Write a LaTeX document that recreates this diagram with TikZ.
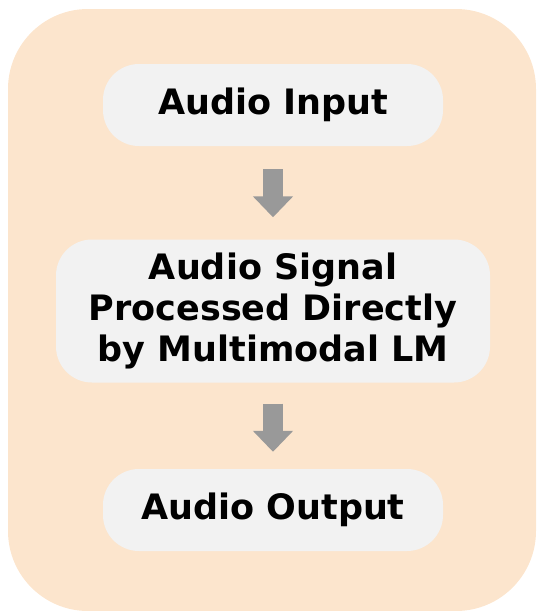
\documentclass[tikz,border=0pt]{standalone}
\usepackage{fontspec}
\setmainfont{DejaVu Sans}
\usetikzlibrary{arrows.meta}
\definecolor{panelpeach}{HTML}{FCE5CD}
\definecolor{boxgray}{HTML}{F2F2F2}
\definecolor{arrowgray}{HTML}{999999}
\tikzset{
  stagebox/.style={fill=boxgray, draw=none, rounded corners=36pt, align=center,
    font=\fontsize{35}{41}\selectfont\bfseries, inner sep=0pt},
  flowarrow/.style={draw=arrowgray, line width=20pt,
    -{Triangle[length=21pt,width=39pt]}}
}
\begin{document}
\begin{tikzpicture}[x=1pt,y=-1pt]
\useasboundingbox (0,0) rectangle (536,611);
% panel behind the flow
\fill[panelpeach, rounded corners=80pt] (8,9) rectangle (536,611);
% stages
\node[stagebox, minimum width=340pt, minimum height=82pt] (in) at (273,105) {Audio Input};
\node[stagebox, minimum width=434pt, minimum height=143pt] (proc) at (273,311)
  {Audio Signal\\Processed Directly\\by Multimodal LM};
\node[stagebox, minimum width=340pt, minimum height=82pt] (out) at (273,510) {Audio Output};
% block arrows between stages
\draw[flowarrow, shorten <=23pt, shorten >=22pt] (in) -- (proc);
\draw[flowarrow, shorten <=21pt, shorten >=17pt] (proc) -- (out);
\end{tikzpicture}
\end{document}
